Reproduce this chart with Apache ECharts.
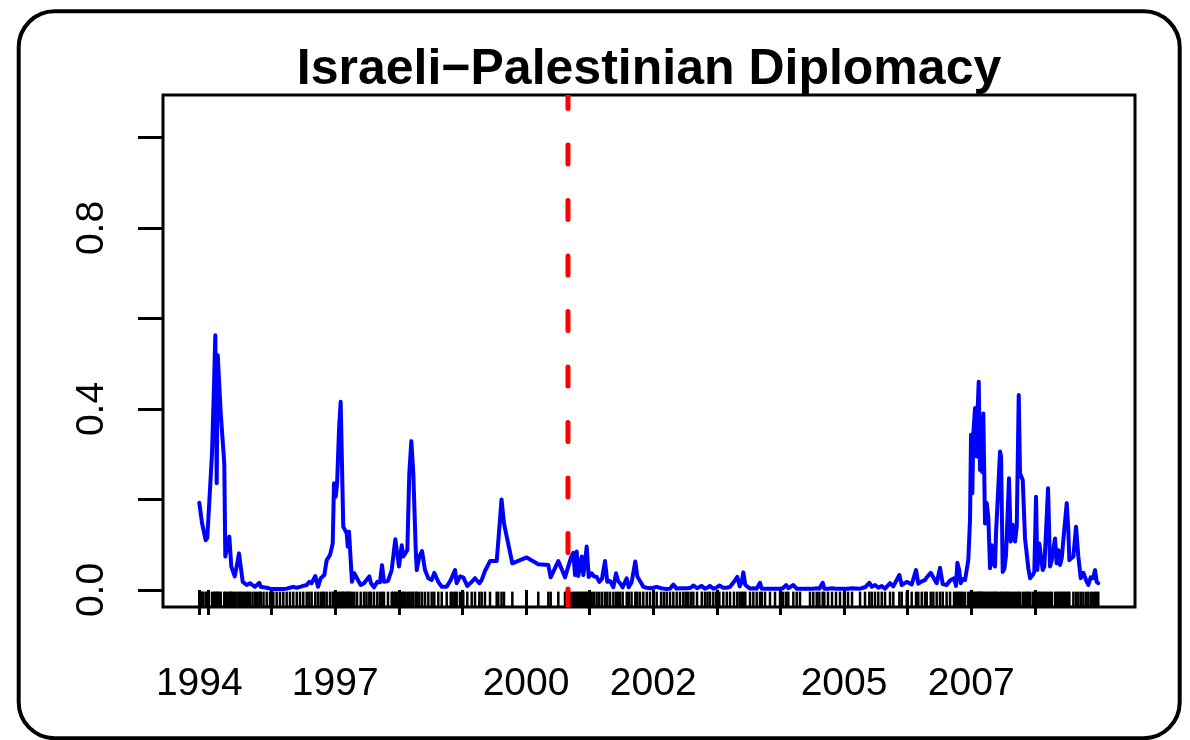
<!DOCTYPE html>
<html>
<head>
<meta charset="utf-8">
<script src="https://cdn.jsdelivr.net/npm/echarts@6/dist/echarts.min.js"></script>
<style>
html,body{margin:0;padding:0;background:#fff;}
#chart{width:1190px;height:740px;}
</style>
</head>
<body>
<div id="chart"></div>
<script>
// Observation dates (decimal years) and diplomacy intensity values
const dates = [
1994.863,1994.890,1994.906,1994.926,1994.964,1994.989,1995.063,1995.094,1995.115,1995.137,
1995.153,1995.178,1995.200,1995.256,1995.272,1995.303,1995.335,1995.350,1995.366,1995.390,
1995.420,1995.451,1995.487,1995.514,1995.546,1995.577,1995.608,1995.634,1995.660,1995.700,
1995.739,1995.770,1995.807,1995.829,1995.873,1995.923,1995.975,1996.027,1996.080,1996.132,
1996.184,1996.237,1996.289,1996.341,1996.395,1996.447,1996.498,1996.552,1996.593,1996.630,
1996.687,1996.730,1996.772,1996.803,1996.829,1996.866,1996.918,1996.961,1996.981,1997.008,
1997.030,1997.060,1997.086,1997.115,1997.127,1997.150,1997.181,1997.197,1997.217,1997.233,
1997.264,1997.300,1997.343,1997.401,1997.453,1997.492,1997.536,1997.563,1997.610,1997.662,
1997.704,1997.736,1997.767,1997.830,1997.888,1997.914,1997.945,1997.967,1998.003,1998.046,
1998.071,1998.097,1998.134,1998.165,1998.197,1998.228,1998.266,1998.282,1998.322,1998.365,
1998.412,1998.464,1998.517,1998.558,1998.621,1998.675,1998.753,1998.816,1998.847,1998.884,
1998.910,1998.962,1999.014,1999.077,1999.146,1999.198,1999.266,1999.303,1999.355,1999.434,
1999.539,1999.564,1999.615,1999.654,1999.785,2000.011,2000.193,2000.351,2000.388,2000.508,
2000.613,2000.708,2000.744,2000.771,2000.797,2000.822,2000.849,2000.876,2000.901,2000.928,
2000.954,2000.986,2001.033,2001.069,2001.111,2001.152,2001.195,2001.242,2001.278,2001.321,
2001.373,2001.415,2001.447,2001.478,2001.520,2001.583,2001.615,2001.660,2001.718,2001.750,
2001.792,2001.844,2001.898,2001.949,2002.002,2002.055,2002.123,2002.167,2002.212,2002.264,
2002.316,2002.369,2002.421,2002.473,2002.511,2002.547,2002.590,2002.631,2002.689,2002.763,
2002.814,2002.854,2002.893,2002.945,2002.992,2003.040,2003.102,2003.156,2003.208,2003.270,
2003.322,2003.360,2003.392,2003.417,2003.448,2003.522,2003.574,2003.627,2003.679,2003.706,
2003.758,2003.836,2003.915,2003.994,2004.041,2004.088,2004.124,2004.203,2004.256,2004.308,
2004.465,2004.517,2004.571,2004.612,2004.665,2004.690,2004.748,2004.811,2004.874,2004.937,
2005.000,2005.063,2005.126,2005.252,
2005.330,2005.398,2005.436,2005.487,2005.539,2005.593,2005.645,2005.723,2005.775,2005.870,
2005.907,2005.986,2006.064,2006.132,2006.168,2006.222,2006.274,2006.300,2006.363,2006.404,
2006.457,2006.509,2006.552,2006.613,2006.667,2006.730,2006.761,2006.782,2006.810,2006.835,
2006.866,2006.903,2006.954,2006.981,2006.997,2007.017,2007.033,2007.060,2007.086,2007.102,
2007.118,2007.138,2007.154,2007.170,2007.190,2007.217,2007.244,2007.269,2007.296,2007.322,
2007.347,2007.374,2007.390,2007.417,2007.453,2007.469,2007.495,2007.521,2007.547,2007.568,
2007.594,2007.621,2007.653,2007.689,2007.716,2007.747,2007.767,2007.810,2007.846,2007.873,
2007.898,2007.925,2007.967,2007.992,2008.019,2008.039,2008.071,2008.093,2008.124,2008.150,
2008.176,2008.208,2008.239,2008.266,2008.318,2008.344,2008.371,2008.396,2008.423,2008.448,
2008.475,2008.502,2008.527,2008.543,2008.606,2008.648,2008.684,2008.722,2008.763,2008.805,
2008.841,2008.879,2008.915,2008.947,2008.973,2008.998
];
const values = [
0.193,0.193,0.148,0.144,0.110,0.115,0.302,0.449,0.563,0.236,
0.519,0.516,0.391,0.280,0.074,0.096,0.118,0.115,0.052,0.054,
0.030,0.052,0.081,0.052,0.018,0.014,0.011,0.012,0.015,0.011,
0.007,0.010,0.016,0.007,0.006,0.005,0.003,0.002,0.002,0.002,
0.002,0.003,0.005,0.007,0.005,0.007,0.009,0.011,0.018,0.015,
0.031,0.007,0.026,0.022,0.033,0.066,0.077,0.103,0.236,0.206,
0.236,0.354,0.416,0.413,0.140,0.140,0.125,0.096,0.129,0.126,
0.018,0.037,0.026,0.011,0.015,0.022,0.030,0.015,0.006,0.018,
0.017,0.055,0.018,0.020,0.044,0.042,0.112,0.108,0.052,0.099,
0.074,0.074,0.088,0.258,0.329,0.258,0.090,0.044,0.074,0.086,
0.044,0.026,0.022,0.038,0.018,0.007,0.007,0.022,0.018,0.044,
0.015,0.030,0.028,0.009,0.018,0.026,0.015,0.022,0.042,0.064,
0.064,0.107,0.200,0.147,0.059,0.072,0.057,0.055,0.028,0.064,
0.028,0.072,0.082,0.033,0.085,0.031,0.030,0.074,0.033,0.060,
0.096,0.029,0.037,0.030,0.029,0.018,0.025,0.064,0.018,0.020,
0.006,0.037,0.020,0.015,0.006,0.026,0.006,0.017,0.063,0.030,
0.020,0.007,0.005,0.004,0.005,0.007,0.004,0.003,0.002,0.003,
0.012,0.003,0.004,0.004,0.004,0.004,0.005,0.010,0.004,0.009,
0.003,0.005,0.009,0.003,0.005,0.010,0.005,0.005,0.007,0.018,
0.029,0.008,0.018,0.039,0.011,0.003,0.004,0.003,0.016,0.003,
0.003,0.003,0.003,0.003,0.004,0.011,0.004,0.011,0.003,0.003,
0.003,0.003,0.004,0.003,0.016,0.003,0.003,0.004,0.003,0.003,
0.003,0.003,0.004,0.003,
0.006,0.016,0.007,0.011,0.005,0.009,0.003,0.015,0.008,0.033,
0.011,0.018,0.012,0.044,0.014,0.019,0.022,0.028,0.038,0.028,
0.015,0.049,0.013,0.011,0.021,0.026,0.009,0.060,0.045,0.015,
0.024,0.022,0.066,0.155,0.343,0.214,0.346,0.402,0.295,0.402,
0.460,0.265,0.310,0.261,0.390,0.147,0.192,0.160,0.048,0.099,
0.059,0.052,0.125,0.125,0.306,0.295,0.040,0.047,0.077,0.077,
0.247,0.107,0.144,0.107,0.140,0.431,0.258,0.243,0.114,0.116,
0.048,0.026,0.033,0.040,0.206,0.044,0.103,0.100,0.044,0.052,
0.052,0.225,0.052,0.065,0.114,0.059,0.088,0.055,0.070,0.110,
0.112,0.192,0.130,0.066,0.074,0.140,0.074,0.026,0.038,0.022,
0.011,0.028,0.026,0.044,0.018,0.015
];
// Start of the Second Intifada (vertical marker)
const intifadaDate = 2000.66;
// Axis ticks and labels
const xTicks = [1994.863,1995,1996,1997,1998,1999,2000,2001,2002,2003,2004,2005,2006,2007,2008];
const xLabelAt = [1994.863,1997,2000,2002,2005,2007];
const yTicks = [0,0.2,0.4,0.6,0.8,1.0];
const yLabelAt = [0,0.4,0.8];
const titleText = 'Israeli\u2212Palestinian Diplomacy';

const X_MIN = 1994.2925, X_MAX = 2009.575;
const Y_MIN = -0.03757, Y_MAX = 1.0939;
const FONT = '"Liberation Sans", Arial, Helvetica, sans-serif';

const chart = echarts.init(document.getElementById('chart'), null, {renderer:'canvas'});
const lineData = dates.map((d,i)=>[d, values[i]]);

chart.setOption({
  animation:false,
  backgroundColor:'#fff',
  grid:{left:163,right:55,top:95,bottom:133,show:true,borderColor:'#000',borderWidth:3,backgroundColor:'transparent'},
  xAxis:{
    type:'value',min:X_MIN,max:X_MAX,
    axisLine:{show:false},splitLine:{show:false},
    axisTick:{show:true,inside:false,length:25,lineStyle:{color:'#000',width:3},customValues:xTicks},
    axisLabel:{customValues:xLabelAt,formatter:v=>String(Math.floor(v)),margin:77,verticalAlign:'middle',
      fontSize:39,fontFamily:FONT,color:'#000'}
  },
  yAxis:{
    type:'value',min:Y_MIN,max:Y_MAX,
    axisLine:{show:false},splitLine:{show:false},
    axisTick:{show:true,inside:false,length:25,lineStyle:{color:'#000',width:3},customValues:yTicks},
    axisLabel:{customValues:yLabelAt,formatter:v=>v.toFixed(1),rotate:90,margin:71,align:'center',verticalAlign:'middle',
      fontSize:39,fontFamily:FONT,color:'#000'}
  },
  graphic:[
    {type:'rect',shape:{x:18.7,y:11.2,width:1161,height:727,r:36},style:{fill:'transparent',stroke:'#000',lineWidth:4},silent:true},
    {type:'text',x:649,y:70.7,z:100,style:{text:titleText,font:'bold 50px '+FONT,fill:'#000',align:'center',verticalAlign:'middle'},silent:true}
  ],
  series:[
    {
      type:'custom',name:'rug',coordinateSystem:'cartesian2d',
      data:dates.map(d=>[d,0]),encode:{x:0,y:1},
      renderItem:function(params,api){
        const p = api.coord([api.value(0),Y_MIN]);
        const h = params.coordSys.height*0.03;
        return {type:'line',shape:{x1:p[0],y1:p[1],x2:p[0],y2:p[1]-h},style:{stroke:'#000',lineWidth:2.5}};
      },
      z:2
    },
    {
      type:'line',name:'diplomacy',data:lineData,showSymbol:false,symbol:'none',
      lineStyle:{color:'#0000FF',width:4,join:'round',cap:'round'},clip:true,z:3
    },
    {
      type:'custom',name:'intifada',coordinateSystem:'cartesian2d',clip:true,
      data:[[intifadaDate,0]],encode:{x:0,y:1},
      renderItem:function(params,api){
        const x = api.coord([api.value(0),0])[0];
        const cs = params.coordSys;
        return {type:'line',shape:{x1:x,y1:cs.y,x2:x,y2:cs.y+cs.height},
          style:{stroke:'#FF0000',lineWidth:5,lineDash:[19,36.5],lineDashOffset:5.5,lineCap:'round'}};
      },
      z:4
    }
  ]
});
</script>
</body>
</html>
